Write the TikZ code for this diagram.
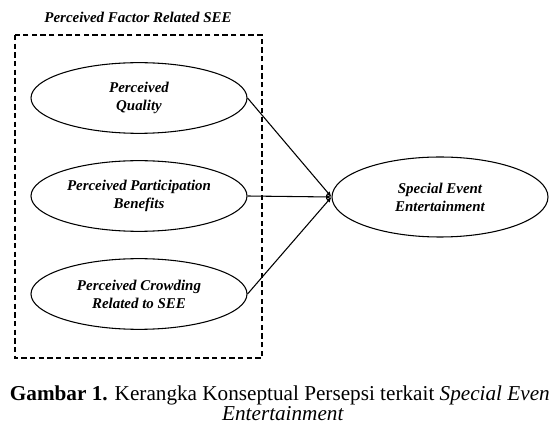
\documentclass[tikz,border=0pt]{standalone}
\usepackage{fontspec}
\setmainfont{Liberation Serif}
\usetikzlibrary{shapes.geometric,arrows.meta}
\begin{document}
\begin{tikzpicture}[x=0.75pt,y=-0.75pt,
    construct/.style={ellipse,draw,line width=0.8pt,minimum width=162pt,
      minimum height=53pt,inner sep=0pt,align=center,
      font=\fontsize{11.2}{13.5}\selectfont\bfseries\itshape},
    link/.style={line width=0.8pt,-{Latex[length=4pt,width=3.5pt]}}]
  \useasboundingbox (0,0) rectangle (549,427);
  % group of perceived factors
  \node[font=\fontsize{11.2}{13}\selectfont\bfseries\itshape] (title) at (138,17) {Perceived Factor Related SEE};
  \draw[line width=0.8pt,dash pattern=on 4pt off 2.5pt] (15,35) rectangle (262,358);
  \node[construct] (quality) at (139,98) {Perceived\\Quality};
  \node[construct] (benefits) at (139,196) {Perceived Participation\\Benefits};
  \node[construct] (crowding) at (139,294) {Perceived Crowding\\Related to SEE};
  % dependent construct
  \node[construct,minimum height=60pt] (see) at (440,197) {Special Event\\Entertainment};
  \draw[link] (quality.east) -- (see.west);
  \draw[link] (benefits.east) -- (see.west);
  \draw[link] (crowding.east) -- (see.west);
  % caption
  \node[align=center,font=\fontsize{15.9}{15}\selectfont] (caption) at (283,403)
    {\textbf{Gambar 1.} Kerangka Konseptual Persepsi terkait \textit{Special Event}\\\textit{Entertainment}};
\end{tikzpicture}
\end{document}
